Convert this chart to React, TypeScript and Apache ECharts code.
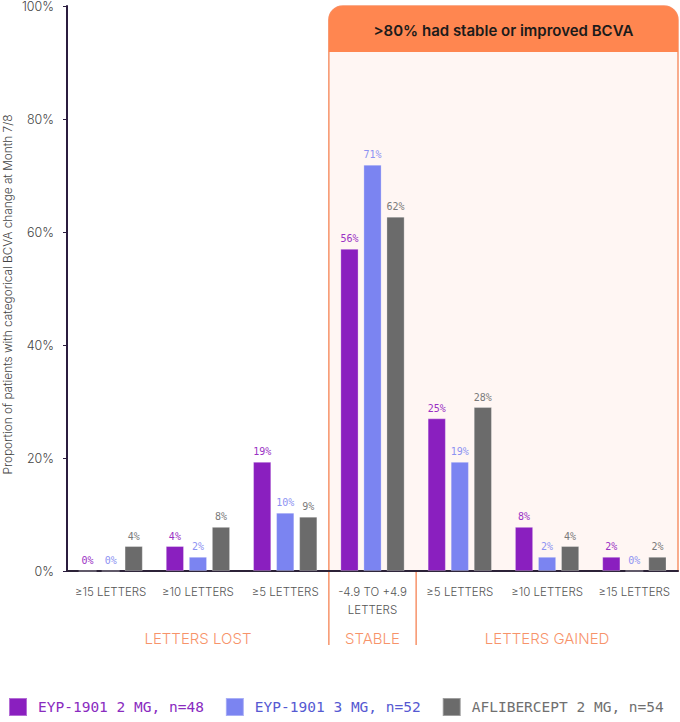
import { useEffect, useRef } from "react";
import * as echarts from "echarts";

const categories = [
  "≥15 LETTERS",
  "≥10 LETTERS",
  "≥5 LETTERS",
  "-4.9 TO +4.9\nLETTERS",
  "≥5 LETTERS",
  "≥10 LETTERS",
  "≥15 LETTERS",
];

const seriesNames = ["EYP-1901 2 MG, n=48", "EYP-1901 3 MG, n=52", "AFLIBERCEPT 2 MG, n=54"];

// bar heights
const eyp2 = [0, 4.4, 19.3, 57, 27, 7.8, 2.5];
const eyp3 = [0, 2.5, 10.3, 71.9, 19.3, 2.5, 0];
const aflib = [4.4, 7.8, 9.6, 62.7, 29, 4.4, 2.5];

// printed labels
const eyp2Labels = ["0%", "4%", "19%", "56%", "25%", "8%", "2%"];
const eyp3Labels = ["0%", "2%", "10%", "71%", "19%", "2%", "0%"];
const aflibLabels = ["4%", "8%", "9%", "62%", "28%", "4%", "2%"];

const groupLabels = ["LETTERS LOST", "STABLE", "LETTERS GAINED"];
const yTicks = [0, 20, 40, 60, 80, 100];

const W = 680;
const H = 722;
const GRID = { left: 67, right: 2, top: 6, bottom: 151 };
const BAND = (W - GRID.left - GRID.right) / categories.length;
const AXIS_Y = H - GRID.bottom;

const colors = ["#8a1fbf", "#7b84f1", "#6b6b6b"];
const labelColors = ["#9a31c4", "#8d92f2", "#7a7a7a"];
const legendColors = ["#8a2bbf", "#5659d2", "#707070"];
const ORANGE = "#f7936a";

export default function App() {
  const ref = useRef<HTMLDivElement | null>(null);

  useEffect(() => {
    if (!ref.current) return;
    const chart = echarts.init(ref.current, undefined, { renderer: "svg" });

    const bx = (i: number) => GRID.left + i * BAND;
    const stableLeft = bx(3);
    const gainedLeft = bx(4);
    const right = W - GRID.right;

    const mk = (idx: number, data: number[], labels: string[]) => ({
      name: seriesNames[idx],
      type: "bar",
      data,
      barWidth: 18,
      barGap: "28%",
      z: 5,
      itemStyle: {
        color: colors[idx],
        borderColor: "rgba(255,255,255,0.35)",
        borderWidth: 0.8,
      },
      label: {
        show: true,
        position: "top",
        distance: 5,
        color: labelColors[idx],
        fontFamily: "DejaVu Sans Mono",
        fontSize: 10,
        formatter: (p: { dataIndex: number }) => labels[p.dataIndex],
      },
    });

    chart.setOption({
      animation: false,
      textStyle: { fontFamily: "Inter" },
      grid: { ...GRID, containLabel: false, outerBoundsMode: "none" },
      legend: {
        left: 8,
        top: 697,
        padding: 0,
        itemWidth: 18,
        itemHeight: 18,
        itemGap: 21,
        icon: "rect",
        data: seriesNames.map((n, i) => ({
          name: n,
          textStyle: {
            color: legendColors[i],
            fontFamily: "DejaVu Sans Mono",
            fontSize: 14.5,
            padding: [0, 0, 0, 6],
          },
        })),
      },
      xAxis: {
        type: "category",
        data: categories,
        axisLine: { lineStyle: { color: "#2c2238", width: 2 } },
        axisTick: { show: false },
        axisLabel: {
          color: "#555",
          fontSize: 11.5,
          fontWeight: 300,
          margin: 12,
          lineHeight: 18,
          interval: 0,
        },
      },
      yAxis: {
        type: "value",
        min: 0,
        max: 100,
        interval: 20,
        name: "Proportion of patients with categorical BCVA change at Month 7/8",
        nameLocation: "middle",
        nameGap: 53,
        nameMoveOverlap: false,
        nameTextStyle: { color: "#444", fontSize: 11.8, fontWeight: 300, padding: [0, 12, 0, 0] },
        axisLine: { show: true, lineStyle: { color: "#2b1d3f", width: 2 } },
        axisTick: { show: true, length: 4, lineStyle: { color: "#2b1d3f" } },
        splitLine: { show: false },
        axisLabel: {
          color: "#444",
          fontSize: 12.5,
          fontWeight: 300,
          margin: 13,
          formatter: (v: number) => (yTicks.includes(v) ? `${v}%` : ""),
        },
      },
      series: [mk(0, eyp2, eyp2Labels), mk(1, eyp3, eyp3Labels), mk(2, aflib, aflibLabels)],
      graphic: [
        {
          type: "rect",
          z: -10,
          shape: { x: stableLeft, y: GRID.top, width: right - stableLeft, height: AXIS_Y - GRID.top, r: [14, 14, 0, 0] },
          style: { fill: "#fff6f3", stroke: ORANGE, lineWidth: 1.5 },
        },
        {
          type: "rect",
          z: -9,
          shape: { x: stableLeft, y: GRID.top, width: right - stableLeft, height: 46, r: [14, 14, 0, 0] },
          style: { fill: "#ff8650" },
        },
        {
          type: "text",
          z: -8,
          x: (stableLeft + right) / 2,
          y: GRID.top + 24,
          style: {
            text: ">80% had stable or improved BCVA",
            fontFamily: "Inter",
            fontWeight: 600,
            fontSize: 15,
            fill: "#1b1b1b",
            align: "center",
            verticalAlign: "middle",
          },
        },
        {
          type: "line",
          shape: { x1: stableLeft, y1: AXIS_Y, x2: stableLeft, y2: 645 },
          style: { stroke: ORANGE, lineWidth: 1.5 },
        },
        {
          type: "line",
          shape: { x1: gainedLeft, y1: AXIS_Y, x2: gainedLeft, y2: 645 },
          style: { stroke: ORANGE, lineWidth: 1.5 },
        },
        ...[
          (bx(0) + bx(3)) / 2,
          (bx(3) + bx(4)) / 2,
          (bx(4) + bx(7)) / 2,
        ].map((cx, i) => ({
          type: "text",
          x: cx,
          y: 638,
          style: {
            text: groupLabels[i],
            fontFamily: "Inter",
            fontWeight: 300,
            fontSize: 15,
            fill: ORANGE,
            align: "center",
            verticalAlign: "middle",
          },
        })),
      ],
    });

    return () => chart.dispose();
  }, []);

  return (
    <div
      ref={ref}
      style={{ position: "fixed", left: 0, top: 0, width: W, height: H, background: "#fff" }}
    />
  );
}
